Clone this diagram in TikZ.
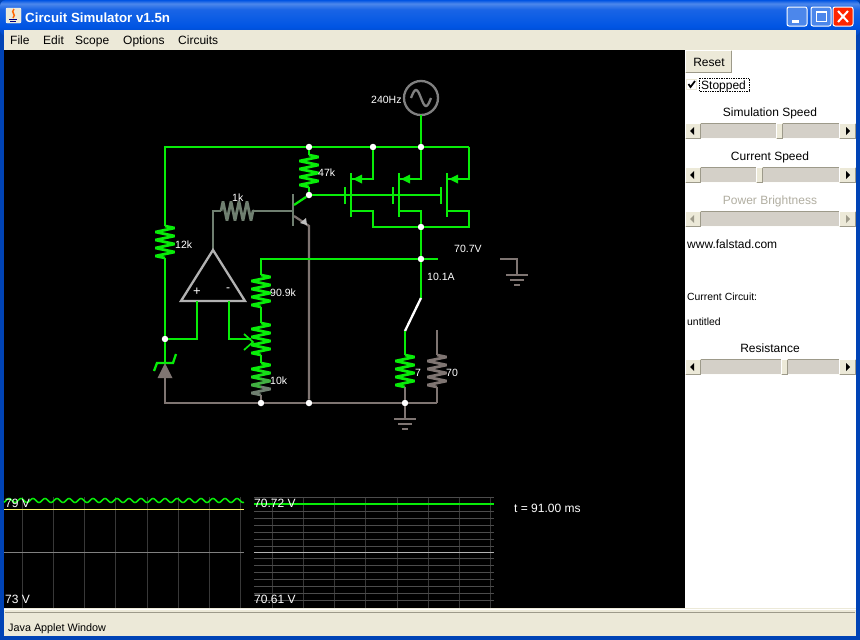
\documentclass[tikz,border=0pt]{standalone}
\usepackage{fontspec}
\setmainfont{Liberation Sans}
\usetikzlibrary{decorations.pathmorphing}

\definecolor{livegreen}{HTML}{08EC08}
\definecolor{deadgray}{HTML}{7F7572}
\definecolor{basegray}{HTML}{6F7F70}
\definecolor{xpblue}{HTML}{0054E3}
\definecolor{xpface}{HTML}{ECE9D8}
\definecolor{xpedge}{HTML}{9D9A8A}
\definecolor{xptrack}{HTML}{D4D0C8}
\definecolor{scopegrid}{HTML}{383838}

\pgfdeclareverticalshading{titlebar}{100bp}{color(0bp)=(xpblue!85!black); color(25bp)=(xpblue!85!black); color(38bp)=(xpblue); color(62bp)=(xpblue!90!white); color(70bp)=(xpblue!70!white); color(75bp)=(xpblue); color(100bp)=(xpblue)}

% a raised face with its light and dark edges
\newcommand{\raisedface}[4]{
	\fill[xpface] (#1,#2) rectangle (#3,#4);
	\draw[white,line width=1pt] (#1+.5,#4-1) -- (#1+.5,#2+.5) -- (#3-1,#2+.5);
	\draw[xpedge,line width=1pt] (#1+.5,#4-.5) -- (#3-.5,#4-.5) -- (#3-.5,#2+.5);
}

\begin{document}
\begin{tikzpicture}[x=1pt,y=-1pt]
\tikzstyle{every node}=[inner sep=0pt,font=\fontsize{12}{14}\selectfont]
\tikzstyle{wire}=[line width=2.3pt,livegreen]
\tikzstyle{deadwire}=[line width=2.3pt,deadgray]
\tikzstyle{basewire}=[line width=2.3pt,basegray]
\tikzstyle{zig}=[decorate,decoration={zigzag,segment length=8pt,amplitude=9.5pt},line width=2.8pt,line join=bevel]
\tikzstyle{jct}=[circle,fill=white,minimum size=6.5pt]
\tikzstyle{lab}=[white,anchor=base west,font=\fontsize{10.5}{13}\selectfont]
\tikzstyle{scopelab}=[white,anchor=base west]
\tikzstyle{menu}=[black,anchor=base west]
\tikzstyle{ctl}=[black,anchor=base]
\tikzstyle{small}=[black,anchor=base west,font=\fontsize{10.4}{12}\selectfont]
\useasboundingbox (0,0) rectangle (860,640);

% window frame
\fill[xpblue!80!black] (0,0) rectangle (860,640);
\shade[shading=titlebar,rounded corners=6pt] (0,0) rectangle (860,36);
\fill[xpface] (4,30) rectangle (856,50);
\fill[black] (4,50) rectangle (685,608);
\fill[white] (685,50) rectangle (856,608);
\fill[xpface] (4,608) rectangle (856,636);
\draw[xpedge,line width=1pt] (5,612.5) -- (855,612.5);
\draw[white,line width=1pt] (4,609) -- (856,609);

% title bar
\draw[fill=xpface,draw=white,rounded corners=1pt] (6,8) rectangle (21,23);
\draw[orange!80!red,line width=1.5pt] (14,9) .. controls (10,13) and (17,14) .. (13,18);
\draw[blue!50!black,line width=1pt] (9,19) -- (17,19) (10,21) -- (16,21);
\node[white,anchor=base west,font=\fontsize{13.3}{15}\bfseries] (title) at (25,22) {Circuit Simulator v1.5n};
\foreach \bx/\bc in {787/xpblue!70!white, 811/xpblue!70!white, 833/red!70!orange}
	\draw[fill=\bc,draw=white,line width=1pt,rounded corners=2pt] (\bx,7) rectangle (\bx+20,26);
\fill[white] (792,20) rectangle (799,23);
\draw[white,line width=1pt] (816.5,12.5) rectangle (826.5,21.5);
\draw[white,line width=2pt] (816,12) -- (827,12);
\draw[white,line width=2pt] (838,11) -- (848,22) (848,11) -- (838,22);

% menu bar
\node[menu] (mfile) at (10,44) {File};
\node[menu] (medit) at (43,44) {Edit};
\node[menu] (mscope) at (75,44) {Scope};
\node[menu] (mopts) at (123,44) {Options};
\node[menu] (mcirc) at (178,44) {Circuits};
\node[menu,font=\fontsize{10.8}{13}\selectfont] (status) at (8,631) {Java Applet Window};

% right hand controls
\raisedface{685}{50}{732}{73}
\node[ctl] (reset) at (709,66) {Reset};
\draw[fill=white,draw=xpface,line width=1pt] (686.5,79.5) rectangle (696.5,89.5);
\draw[black,line width=1.7pt] (688.5,84) -- (690.5,87) -- (695,81);
\draw[black,densely dotted,line width=.7pt] (699,78) rectangle (749,91);
\node[menu] (stopped) at (701,89) {Stopped};
\node[ctl] (simspeed) at (770,116) {Simulation Speed};
\node[ctl] (curspeed) at (770,160) {Current Speed};
\node[ctl,text=xpedge!80!white] (powbright) at (770,204) {Power Brightness};
\node[menu] (site) at (687,248) {www.falstad.com};
\node[small] (curcirc) at (687,300) {Current Circuit:};
\node[small] (untitled) at (687,325) {untitled};
\node[ctl] (resist) at (770,352) {Resistance};

% scroll bars
\foreach \ty/\ac in {123/black,167/black,211/xpedge,359/black} {
	\fill[xptrack] (701,\ty) rectangle (839,\ty+16);
	\draw[xpedge,line width=1pt] (701,\ty+.5) -- (839,\ty+.5);
	\draw[white!90!xpface,line width=1pt] (701,\ty+15.5) -- (839,\ty+15.5);
	\raisedface{685}{\ty}{701}{\ty+16}
	\raisedface{839}{\ty}{856}{\ty+16}
	\fill[\ac] (690,\ty+8) -- (694,\ty+4) -- (694,\ty+12) -- cycle;
	\fill[\ac] (850,\ty+8) -- (846,\ty+4) -- (846,\ty+12) -- cycle;
}
\foreach \ty/\tx in {123/776,167/756,359/781} {
	\raisedface{\tx}{\ty}{\tx+7}{\ty+16}
}

% junctions
\node[jct] (jtopa) at (309,147) {};
\node[jct] (jtopb) at (373,147) {};
\node[jct] (jtopc) at (421,147) {};
\node[jct] (jcol) at (309,195) {};
\node[jct] (jdrain) at (421,227) {};
\node[jct] (jout) at (421,259) {};
\node[jct] (jzen) at (165,339) {};
\node[jct] (jgnda) at (261,403) {};
\node[jct] (jgndb) at (309,403) {};
\node[jct] (jgndc) at (405,403) {};

% corner points and component ends
\coordinate (acout) at (421,115);
\coordinate (ctl) at (165,147);
\coordinate (ctr) at (469,147);
\coordinate (cdra) at (373,227);
\coordinate (cdrc) at (469,227);
\coordinate (gate) at (441,195);
\coordinate (cbl) at (165,403);
\coordinate (rxa) at (165,226);
\coordinate (rxb) at (165,258);
\coordinate (rca) at (309,155);
\coordinate (rcb) at (309,187);
\coordinate (rba) at (221,211);
\coordinate (rbb) at (254,211);
\coordinate (cba) at (213,211);
\coordinate (apex) at (213,250);
\coordinate (basept) at (293,211);
\coordinate (colpt) at (294,205);
\coordinate (emitpt) at (294,216);
\coordinate (cemit) at (309,226);
\coordinate (div) at (261,259);
\coordinate (raa) at (261,275);
\coordinate (rab) at (261,307);
\coordinate (pota) at (261,323);
\coordinate (potb) at (261,355);
\coordinate (rda) at (261,363);
\coordinate (rdb) at (261,395);
\coordinate (outend) at (438,259);
\coordinate (swa) at (421,298);
\coordinate (swb) at (405,331);
\coordinate (rla) at (405,355);
\coordinate (rlb) at (405,387);
\coordinate (rma) at (437,355);
\coordinate (rmb) at (437,387);
\coordinate (rmtop) at (437,330);
\coordinate (cbr) at (437,403);
\coordinate (gnda) at (405,419);
\coordinate (gndb) at (517,275);
\coordinate (gndc) at (500,259);
\coordinate (gndd) at (517,259);
\coordinate (zena) at (165,363);
\coordinate (zenb) at (165,378);
\coordinate (oppos) at (197,301);
\coordinate (opneg) at (229,301);
\coordinate (cneg) at (229,339);
\coordinate (wiper) at (251,339);

% ac source
\draw[line width=2.3pt,gray] (421,98) circle (17);
\node[lab] (srclab) at (371,103) {240Hz};
\draw[line width=2.3pt,gray,domain=-10:10,samples=40,smooth] plot ({421+\x},{98-8*sin(18*(\x+10))});
\draw[wire] (acout) -- (jtopc);

% supply rail
\draw[wire] (rxa) -- (ctl) -- (jtopa);
\draw[wire] (jtopa) -- (jtopb);
\draw[wire] (jtopb) -- (jtopc);
\draw[wire] (jtopc) -- (ctr);
\draw[wire,zig] (rxa) -- (rxb);
\draw[wire] (rxb) -- (jzen);
\node[lab] (rxlab) at (175,248) {12k};
\draw[wire] (jtopa) -- (rca);
\draw[wire,zig] (rca) -- (rcb);
\draw[wire] (rcb) -- (jcol);
\node[lab] (rclab) at (318,176) {47k};

% mosfets
\foreach \ch/\m in {351/a,399/b,447/c} {
	\coordinate (src\m) at (\ch,179);
	\coordinate (drn\m) at (\ch,211);
	\draw[wire] (\ch,173) -- (\ch,217);
	\draw[wire] (\ch-6,187) -- (\ch-6,204);
	\fill[livegreen] (\ch+2,179) -- (\ch+11,174.5) -- (\ch+11,183.5) -- cycle;
}
\draw[wire] (srca) -| (jtopb);
\draw[wire] (srcb) -| (jtopc);
\draw[wire] (srcc) -| (ctr);
\draw[wire] (drna) -| (cdra) -- (jdrain);
\draw[wire] (drnb) -| (jdrain);
\draw[wire] (drnc) -| (cdrc) -- (jdrain);
\draw[wire] (jcol) -- (gate);
\draw[wire] (jdrain) -- (jout);

% transistor and base resistor
\draw[basewire] (apex) -- (cba) -- (rba);
\draw[basegray,zig] (rba) -- (rbb);
\draw[basewire] (rbb) -- (basept);
\draw[basewire] (293,194) -- (293,226);
\node[lab] (rblab) at (232,201) {1k};
\draw[wire] (colpt) -- (jcol);
\draw[deadwire] (emitpt) -- (cemit) -- (jgndb);
\fill[lightgray] (307,225) -- (300,223) -- (306,218) -- cycle;

% op amp
\draw[line width=2.3pt,lightgray!80!gray] (apex) -- (245,301) -- (181,301) -- cycle;
\node[white,font=\fontsize{13}{15}\selectfont] (opplus) at (197,292) {+};
\node[white] (opminus) at (228,290) {-};
\draw[wire] (oppos) |- (jzen);
\draw[wire] (opneg) -- (cneg) -- (wiper);
\draw[wire,line width=1.7pt] (244,334) -- (253,342) -- (244,350);

% divider chain
\draw[wire] (jout) -- (div) -- (raa);
\draw[wire,zig] (raa) -- (rab);
\draw[wire] (rab) -- (pota);
\draw[wire,zig] (pota) -- (potb);
\draw[wire] (potb) -- (rda);
\foreach \yy/\cc in {363/livegreen,371/livegreen!85!basegray,379/livegreen!45!basegray,387/basegray}
	\draw[\cc,zig] (261,\yy) -- (261,\yy+8);
\draw[deadwire] (rdb) -- (jgnda);
\node[lab] (ralab) at (270,296) {90.9k};
\node[lab] (rdlab) at (270,384) {10k};

% output and switch
\draw[wire] (jout) -- (outend);
\node[lab] (vout) at (454,252) {70.7V};
\draw[wire] (jout) -- (swa);
\node[lab] (iout) at (427,280) {10.1A};
\draw[line width=2.3pt,white] (swa) -- (swb);
\draw[wire] (swb) -- (rla);
\draw[wire,zig] (rla) -- (rlb);
\draw[deadwire] (rlb) -- (jgndc);
\node[lab] (rllab) at (415,376) {7};
\draw[deadwire] (rmtop) -- (rma);
\draw[deadwire,zig] (rma) -- (rmb);
\draw[deadwire] (rmb) -- (cbr);
\node[lab] (rmlab) at (446,376) {70};

% zener
\draw[wire] (jzen) -- (zena);
\draw[wire] (154,371) -- (157,363) -- (173,363) -- (176,354);
\fill[deadgray] (zena) -- (172.5,378) -- (157.5,378) -- cycle;
\draw[deadwire] (zenb) -- (cbl) -- (jgnda);

% ground rail
\draw[deadwire] (jgnda) -- (jgndb);
\draw[deadwire] (jgndb) -- (jgndc);
\draw[deadwire] (jgndc) -- (cbr);
\draw[deadwire] (jgndc) -- (gnda);
\draw[deadwire] (394,419) -- (416,419) (398,424) -- (412,424) (402,429) -- (408,429);
\draw[deadwire] (gndc) -- (gndd) -- (gndb);
\draw[deadwire] (506,275) -- (528,275) (510,280) -- (524,280) (514,285) -- (520,285);

% left scope
\foreach \x in {22,53,84,115,147,178,209,240}
	\draw[scopegrid,line width=1pt] (\x,497) -- (\x,608);
\draw[gray,line width=1pt] (4,552) -- (244,552);
\draw[yellow!60!white,line width=1pt] (4,509) -- (244,509);
\draw[wire,line width=1.5pt,domain=4:244,samples=241] plot (\x,{500.5+2*sin(30*\x)});
\node[scopelab] (scalea) at (5,507) {79 V};
\node[scopelab] (scaleb) at (5,603) {73 V};

% right scope
\foreach \x in {272,303,334,365,397,428,459,490}
	\draw[scopegrid,line width=1pt] (\x,497) -- (\x,608);
\foreach \y in {497,511,518,525,532,539,546,558,565,572,579,586,593,600}
	\draw[scopegrid!90!white,line width=1pt] (254,\y) -- (494,\y);
\draw[gray!60!white,line width=1pt] (254,552) -- (494,552);
\draw[wire,line width=1.2pt] (254,504) -- (494,504);
\node[scopelab] (scalec) at (254,507) {70.72 V};
\node[scopelab] (scaled) at (254,603) {70.61 V};
\node[scopelab] (timelab) at (514,512) {t = 91.00 ms};

\end{tikzpicture}
\end{document}
